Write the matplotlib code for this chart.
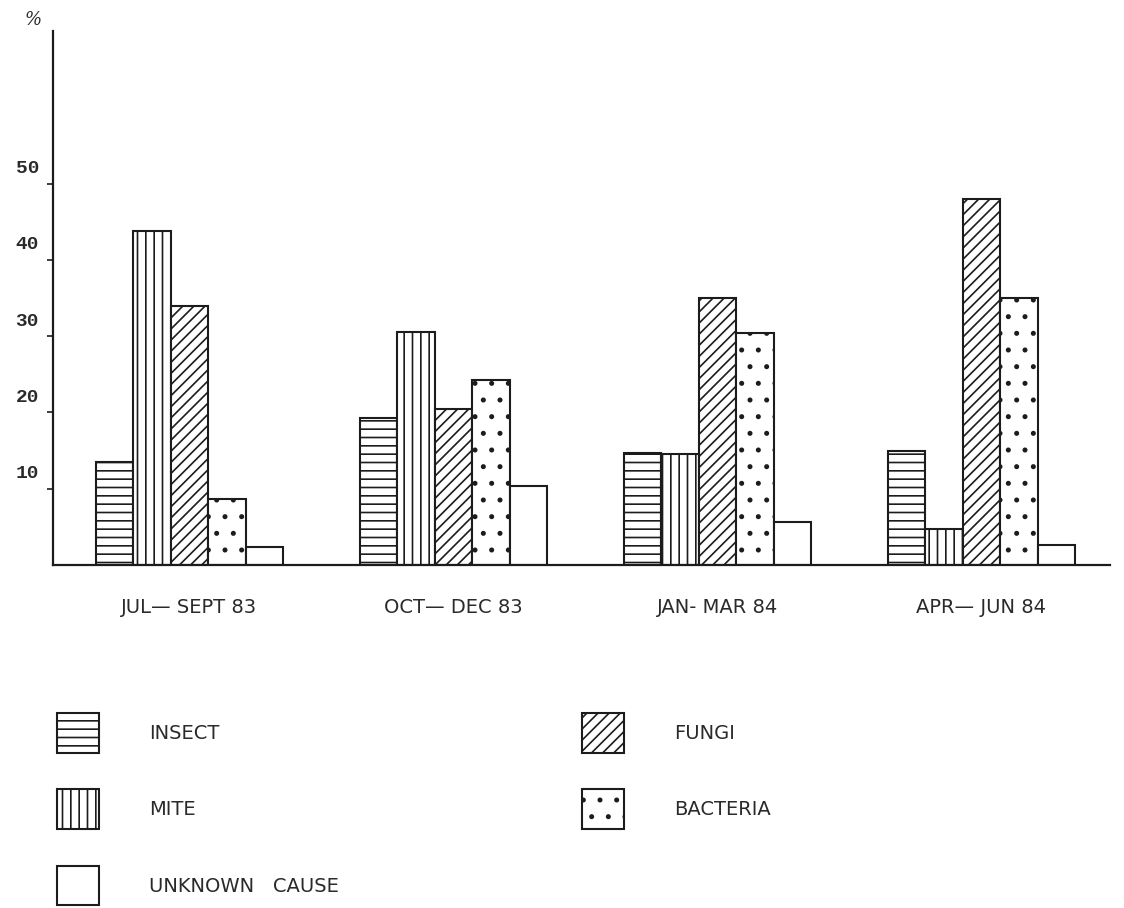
import matplotlib
matplotlib.use("Agg")
import matplotlib.pyplot as plt
import matplotlib.transforms as mtransforms
from matplotlib.patches import Patch
import numpy as np

# data (% of damaged plants by cause)
periods = ["JUL— SEPT 83", "OCT— DEC 83", "JAN- MAR 84", "APR— JUN 84"]
insect = [13.5, 19.3, 14.7, 15.0]
mite = [43.8, 30.5, 14.6, 4.7]
fungi = [34.0, 20.4, 35.0, 48.0]
bacteria = [8.7, 24.3, 30.4, 35.0]
unknown = [2.4, 10.4, 5.6, 2.6]
yticks = [10, 20, 30, 40, 50]

series = [
    ("INSECT", insect, "--"),
    ("MITE", mite, "||"),
    ("FUNGI", fungi, "///"),
    ("BACTERIA", bacteria, "."),
    ("UNKNOWN   CAUSE", unknown, ""),
]

ink = "#1c1c1c"
plt.rcParams["hatch.linewidth"] = 1.2
plt.rcParams["hatch.color"] = ink

fig = plt.figure(figsize=(11.24, 9.08), dpi=100)
W, H = 1124, 908
ax = fig.add_axes([53 / W, (H - 565) / H, 1057 / W, 534 / H])

x = np.arange(len(periods))
width = 0.142
for k, (name, vals, hatch) in enumerate(series):
    ax.bar(x + (k - 2) * width, vals, width, facecolor="white",
           edgecolor=ink, linewidth=1.5, hatch=hatch, label=name)

ax.set_xlim(-0.517, 3.487)
ax.set_ylim(0, 70)

for s in ["top", "right"]:
    ax.spines[s].set_visible(False)
for s in ["left", "bottom"]:
    ax.spines[s].set_linewidth(1.6)
    ax.spines[s].set_color(ink)

ax.set_yticks(yticks)
ax.set_yticklabels([str(t) for t in yticks], family="Liberation Mono",
                   fontweight="bold", fontsize=14, color="#2a2a2a")
ax.tick_params(axis="y", direction="out", length=4, width=1.2, color=ink, pad=6)
# labels sit a bit above their tick marks, as in the drawing
shift = mtransforms.ScaledTranslation(0, 0.17, fig.dpi_scale_trans)
for lab in ax.get_yticklabels():
    lab.set_transform(lab.get_transform() + shift)

ax.set_xticks(x)
ax.set_xticklabels(periods, fontsize=14, color="#2a2a2a")
ax.tick_params(axis="x", length=0, pad=24)

fig.text(33 / W, 1 - 20 / H, "%", fontsize=13, style="italic", family="DejaVu Serif",
         color="#2a2a2a", ha="center", va="center")

# legend in two columns, like the original key
handles = {name: Patch(facecolor="white", edgecolor=ink, linewidth=1.5, hatch=h)
           for name, _, h in series}
kw = dict(frameon=False, fontsize=14, handlelength=2.15, handleheight=2.75,
          handletextpad=2.6, labelspacing=1.9, borderpad=0, borderaxespad=0,
          labelcolor="#2a2a2a", loc="upper left")
left_names = ["INSECT", "MITE", "UNKNOWN   CAUSE"]
right_names = ["FUNGI", "BACTERIA"]
leg1 = fig.legend([handles[n] for n in left_names], left_names,
                  bbox_to_anchor=(57 / W, (H - 713) / H), **kw)
fig.legend([handles[n] for n in right_names], right_names,
           bbox_to_anchor=(582 / W, (H - 713) / H), **kw)

fig.savefig("out.png", dpi=100, facecolor="white")
